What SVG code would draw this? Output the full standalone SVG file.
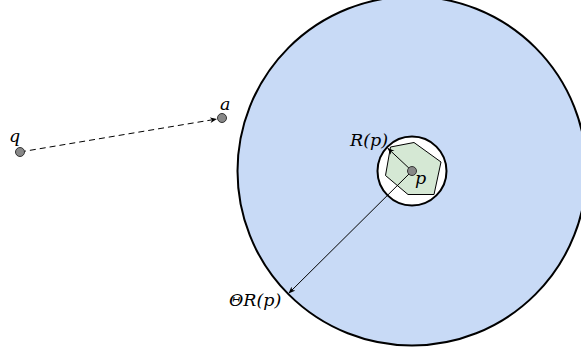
<svg xmlns="http://www.w3.org/2000/svg" width="581" height="354" viewBox="0 0 581 354">
<style>
.lbl{font-family:"DejaVu Serif",serif;font-style:italic;font-size:17.5px;fill:#000}
.dot{fill:#888;stroke:#333;stroke-width:1}
.ln{stroke:#000;stroke-width:1;fill:none}
</style>
<defs>
<marker id="ah" viewBox="0 0 10 10" refX="10" refY="5" markerWidth="7" markerHeight="7" orient="auto" markerUnits="userSpaceOnUse">
<path d="M0,1 L10,5 L0,9 L3,5 Z" fill="#000"/>
</marker>
</defs>
<rect width="581" height="354" fill="#fff"/>
<g id="outer-region">
<circle cx="412" cy="171" r="174.5" fill="#c8daf6" stroke="#000" stroke-width="2"/>
</g>
<g id="inner-region">
<circle cx="412" cy="171" r="34.5" fill="#fff" stroke="#000" stroke-width="2"/>
<polygon points="390.5,147 414,142.5 441,162 434,194.5 408,194.5 385.5,175.5" fill="#d5e8d4" stroke="#000" stroke-width="1"/>
</g>
<g id="connectors">
<line class="ln" x1="20" y1="152" x2="217" y2="119" stroke-dasharray="6,4" marker-end="url(#ah)"/>
<line class="ln" x1="412" y1="171" x2="387.5" y2="148" marker-end="url(#ah)"/>
<line class="ln" x1="412" y1="171" x2="288.5" y2="293.5" marker-end="url(#ah)"/>
</g>
<g id="node-q">
<circle class="dot" cx="20" cy="152" r="4.5"/>
<text class="lbl" x="9" y="142">q</text>
</g>
<g id="node-a">
<circle class="dot" cx="222" cy="118" r="4.5"/>
<text class="lbl" x="220" y="110">a</text>
</g>
<g id="node-p">
<circle class="dot" cx="412" cy="171" r="4.5"/>
<text class="lbl" x="415" y="184">p</text>
</g>
<text class="lbl" x="350" y="146">R(p)</text>
<text class="lbl" x="229" y="306">ΘR(p)</text>
</svg>
